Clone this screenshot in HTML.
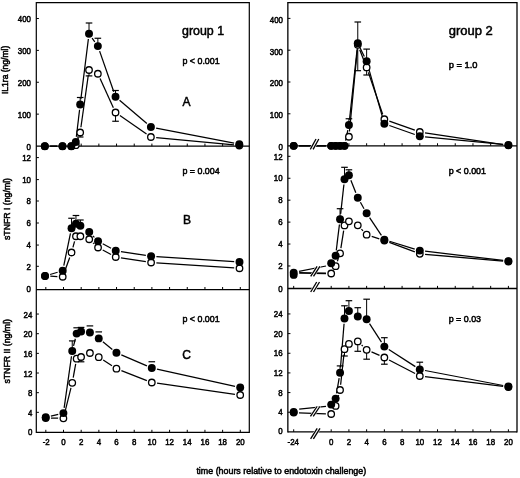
<!DOCTYPE html>
<html><head><meta charset="utf-8"><title>figure</title>
<style>
html,body{margin:0;padding:0;background:#fff;}
body{width:520px;height:478px;overflow:hidden;}
svg{display:block;}
text{font-family:"Liberation Sans",sans-serif;fill:#000;stroke:#000;stroke-width:0.5px;}
svg{filter:grayscale(1);}
</style></head><body>
<svg width="520" height="478" viewBox="0 0 520 478">
<rect x="0" y="0" width="520" height="478" fill="#fff"/>
<line x1="36.30" y1="2.00" x2="36.30" y2="433.00" stroke="#000" stroke-width="1.2" />
<line x1="249.30" y1="2.00" x2="249.30" y2="433.00" stroke="#000" stroke-width="1.2" />
<line x1="36.30" y1="2.60" x2="249.30" y2="2.60" stroke="#000" stroke-width="1.2" />
<line x1="36.30" y1="146.20" x2="249.30" y2="146.20" stroke="#000" stroke-width="1.2" />
<line x1="36.30" y1="289.60" x2="249.30" y2="289.60" stroke="#000" stroke-width="1.2" />
<line x1="36.30" y1="432.40" x2="249.30" y2="432.40" stroke="#000" stroke-width="1.2" />
<line x1="45.82" y1="146.20" x2="45.82" y2="143.60" stroke="#000" stroke-width="1.0" />
<line x1="63.50" y1="146.20" x2="63.50" y2="143.60" stroke="#000" stroke-width="1.0" />
<line x1="81.18" y1="146.20" x2="81.18" y2="143.60" stroke="#000" stroke-width="1.0" />
<line x1="98.86" y1="146.20" x2="98.86" y2="143.60" stroke="#000" stroke-width="1.0" />
<line x1="116.54" y1="146.20" x2="116.54" y2="143.60" stroke="#000" stroke-width="1.0" />
<line x1="134.22" y1="146.20" x2="134.22" y2="143.60" stroke="#000" stroke-width="1.0" />
<line x1="151.90" y1="146.20" x2="151.90" y2="143.60" stroke="#000" stroke-width="1.0" />
<line x1="169.58" y1="146.20" x2="169.58" y2="143.60" stroke="#000" stroke-width="1.0" />
<line x1="187.26" y1="146.20" x2="187.26" y2="143.60" stroke="#000" stroke-width="1.0" />
<line x1="204.94" y1="146.20" x2="204.94" y2="143.60" stroke="#000" stroke-width="1.0" />
<line x1="222.62" y1="146.20" x2="222.62" y2="143.60" stroke="#000" stroke-width="1.0" />
<line x1="240.30" y1="146.20" x2="240.30" y2="143.60" stroke="#000" stroke-width="1.0" />
<line x1="45.82" y1="289.60" x2="45.82" y2="287.00" stroke="#000" stroke-width="1.0" />
<line x1="63.50" y1="289.60" x2="63.50" y2="287.00" stroke="#000" stroke-width="1.0" />
<line x1="81.18" y1="289.60" x2="81.18" y2="287.00" stroke="#000" stroke-width="1.0" />
<line x1="98.86" y1="289.60" x2="98.86" y2="287.00" stroke="#000" stroke-width="1.0" />
<line x1="116.54" y1="289.60" x2="116.54" y2="287.00" stroke="#000" stroke-width="1.0" />
<line x1="134.22" y1="289.60" x2="134.22" y2="287.00" stroke="#000" stroke-width="1.0" />
<line x1="151.90" y1="289.60" x2="151.90" y2="287.00" stroke="#000" stroke-width="1.0" />
<line x1="169.58" y1="289.60" x2="169.58" y2="287.00" stroke="#000" stroke-width="1.0" />
<line x1="187.26" y1="289.60" x2="187.26" y2="287.00" stroke="#000" stroke-width="1.0" />
<line x1="204.94" y1="289.60" x2="204.94" y2="287.00" stroke="#000" stroke-width="1.0" />
<line x1="222.62" y1="289.60" x2="222.62" y2="287.00" stroke="#000" stroke-width="1.0" />
<line x1="240.30" y1="289.60" x2="240.30" y2="287.00" stroke="#000" stroke-width="1.0" />
<line x1="45.82" y1="432.40" x2="45.82" y2="429.80" stroke="#000" stroke-width="1.0" />
<line x1="63.50" y1="432.40" x2="63.50" y2="429.80" stroke="#000" stroke-width="1.0" />
<line x1="81.18" y1="432.40" x2="81.18" y2="429.80" stroke="#000" stroke-width="1.0" />
<line x1="98.86" y1="432.40" x2="98.86" y2="429.80" stroke="#000" stroke-width="1.0" />
<line x1="116.54" y1="432.40" x2="116.54" y2="429.80" stroke="#000" stroke-width="1.0" />
<line x1="134.22" y1="432.40" x2="134.22" y2="429.80" stroke="#000" stroke-width="1.0" />
<line x1="151.90" y1="432.40" x2="151.90" y2="429.80" stroke="#000" stroke-width="1.0" />
<line x1="169.58" y1="432.40" x2="169.58" y2="429.80" stroke="#000" stroke-width="1.0" />
<line x1="187.26" y1="432.40" x2="187.26" y2="429.80" stroke="#000" stroke-width="1.0" />
<line x1="204.94" y1="432.40" x2="204.94" y2="429.80" stroke="#000" stroke-width="1.0" />
<line x1="222.62" y1="432.40" x2="222.62" y2="429.80" stroke="#000" stroke-width="1.0" />
<line x1="240.30" y1="432.40" x2="240.30" y2="429.80" stroke="#000" stroke-width="1.0" />
<line x1="36.30" y1="114.13" x2="38.90" y2="114.13" stroke="#000" stroke-width="1.0" />
<line x1="36.30" y1="82.26" x2="38.90" y2="82.26" stroke="#000" stroke-width="1.0" />
<line x1="36.30" y1="50.39" x2="38.90" y2="50.39" stroke="#000" stroke-width="1.0" />
<line x1="36.30" y1="18.52" x2="38.90" y2="18.52" stroke="#000" stroke-width="1.0" />
<line x1="36.30" y1="266.30" x2="38.90" y2="266.30" stroke="#000" stroke-width="1.0" />
<line x1="36.30" y1="245.05" x2="38.90" y2="245.05" stroke="#000" stroke-width="1.0" />
<line x1="36.30" y1="223.00" x2="38.90" y2="223.00" stroke="#000" stroke-width="1.0" />
<line x1="36.30" y1="201.00" x2="38.90" y2="201.00" stroke="#000" stroke-width="1.0" />
<line x1="36.30" y1="179.60" x2="38.90" y2="179.60" stroke="#000" stroke-width="1.0" />
<line x1="36.30" y1="157.60" x2="38.90" y2="157.60" stroke="#000" stroke-width="1.0" />
<line x1="36.30" y1="412.34" x2="38.90" y2="412.34" stroke="#000" stroke-width="1.0" />
<line x1="36.30" y1="392.68" x2="38.90" y2="392.68" stroke="#000" stroke-width="1.0" />
<line x1="36.30" y1="373.02" x2="38.90" y2="373.02" stroke="#000" stroke-width="1.0" />
<line x1="36.30" y1="353.36" x2="38.90" y2="353.36" stroke="#000" stroke-width="1.0" />
<line x1="36.30" y1="333.70" x2="38.90" y2="333.70" stroke="#000" stroke-width="1.0" />
<line x1="36.30" y1="314.04" x2="38.90" y2="314.04" stroke="#000" stroke-width="1.0" />
<line x1="287.85" y1="1.95" x2="287.85" y2="432.55" stroke="#000" stroke-width="1.3" />
<line x1="517.00" y1="1.95" x2="517.00" y2="432.55" stroke="#000" stroke-width="1.3" />
<line x1="287.85" y1="2.60" x2="517.00" y2="2.60" stroke="#000" stroke-width="1.3" />
<line x1="287.85" y1="145.85" x2="517.00" y2="145.85" stroke="#000" stroke-width="1.3" />
<line x1="287.85" y1="288.50" x2="517.00" y2="288.50" stroke="#000" stroke-width="1.3" />
<line x1="287.85" y1="431.90" x2="517.00" y2="431.90" stroke="#000" stroke-width="1.3" />
<line x1="293.70" y1="145.85" x2="293.70" y2="143.25" stroke="#000" stroke-width="1.0" />
<line x1="331.20" y1="145.85" x2="331.20" y2="143.25" stroke="#000" stroke-width="1.0" />
<line x1="348.92" y1="145.85" x2="348.92" y2="143.25" stroke="#000" stroke-width="1.0" />
<line x1="366.64" y1="145.85" x2="366.64" y2="143.25" stroke="#000" stroke-width="1.0" />
<line x1="384.36" y1="145.85" x2="384.36" y2="143.25" stroke="#000" stroke-width="1.0" />
<line x1="402.08" y1="145.85" x2="402.08" y2="143.25" stroke="#000" stroke-width="1.0" />
<line x1="419.80" y1="145.85" x2="419.80" y2="143.25" stroke="#000" stroke-width="1.0" />
<line x1="437.52" y1="145.85" x2="437.52" y2="143.25" stroke="#000" stroke-width="1.0" />
<line x1="455.24" y1="145.85" x2="455.24" y2="143.25" stroke="#000" stroke-width="1.0" />
<line x1="472.96" y1="145.85" x2="472.96" y2="143.25" stroke="#000" stroke-width="1.0" />
<line x1="490.68" y1="145.85" x2="490.68" y2="143.25" stroke="#000" stroke-width="1.0" />
<line x1="508.40" y1="145.85" x2="508.40" y2="143.25" stroke="#000" stroke-width="1.0" />
<line x1="293.70" y1="288.50" x2="293.70" y2="285.90" stroke="#000" stroke-width="1.0" />
<line x1="331.20" y1="288.50" x2="331.20" y2="285.90" stroke="#000" stroke-width="1.0" />
<line x1="348.92" y1="288.50" x2="348.92" y2="285.90" stroke="#000" stroke-width="1.0" />
<line x1="366.64" y1="288.50" x2="366.64" y2="285.90" stroke="#000" stroke-width="1.0" />
<line x1="384.36" y1="288.50" x2="384.36" y2="285.90" stroke="#000" stroke-width="1.0" />
<line x1="402.08" y1="288.50" x2="402.08" y2="285.90" stroke="#000" stroke-width="1.0" />
<line x1="419.80" y1="288.50" x2="419.80" y2="285.90" stroke="#000" stroke-width="1.0" />
<line x1="437.52" y1="288.50" x2="437.52" y2="285.90" stroke="#000" stroke-width="1.0" />
<line x1="455.24" y1="288.50" x2="455.24" y2="285.90" stroke="#000" stroke-width="1.0" />
<line x1="472.96" y1="288.50" x2="472.96" y2="285.90" stroke="#000" stroke-width="1.0" />
<line x1="490.68" y1="288.50" x2="490.68" y2="285.90" stroke="#000" stroke-width="1.0" />
<line x1="508.40" y1="288.50" x2="508.40" y2="285.90" stroke="#000" stroke-width="1.0" />
<line x1="293.70" y1="431.90" x2="293.70" y2="429.30" stroke="#000" stroke-width="1.0" />
<line x1="331.20" y1="431.90" x2="331.20" y2="429.30" stroke="#000" stroke-width="1.0" />
<line x1="348.92" y1="431.90" x2="348.92" y2="429.30" stroke="#000" stroke-width="1.0" />
<line x1="366.64" y1="431.90" x2="366.64" y2="429.30" stroke="#000" stroke-width="1.0" />
<line x1="384.36" y1="431.90" x2="384.36" y2="429.30" stroke="#000" stroke-width="1.0" />
<line x1="402.08" y1="431.90" x2="402.08" y2="429.30" stroke="#000" stroke-width="1.0" />
<line x1="419.80" y1="431.90" x2="419.80" y2="429.30" stroke="#000" stroke-width="1.0" />
<line x1="437.52" y1="431.90" x2="437.52" y2="429.30" stroke="#000" stroke-width="1.0" />
<line x1="455.24" y1="431.90" x2="455.24" y2="429.30" stroke="#000" stroke-width="1.0" />
<line x1="472.96" y1="431.90" x2="472.96" y2="429.30" stroke="#000" stroke-width="1.0" />
<line x1="490.68" y1="431.90" x2="490.68" y2="429.30" stroke="#000" stroke-width="1.0" />
<line x1="508.40" y1="431.90" x2="508.40" y2="429.30" stroke="#000" stroke-width="1.0" />
<line x1="287.85" y1="113.80" x2="290.45" y2="113.80" stroke="#000" stroke-width="1.0" />
<line x1="287.85" y1="82.00" x2="290.45" y2="82.00" stroke="#000" stroke-width="1.0" />
<line x1="287.85" y1="50.20" x2="290.45" y2="50.20" stroke="#000" stroke-width="1.0" />
<line x1="287.85" y1="18.40" x2="290.45" y2="18.40" stroke="#000" stroke-width="1.0" />
<line x1="287.85" y1="265.97" x2="290.45" y2="265.97" stroke="#000" stroke-width="1.0" />
<line x1="287.85" y1="244.04" x2="290.45" y2="244.04" stroke="#000" stroke-width="1.0" />
<line x1="287.85" y1="222.11" x2="290.45" y2="222.11" stroke="#000" stroke-width="1.0" />
<line x1="287.85" y1="200.18" x2="290.45" y2="200.18" stroke="#000" stroke-width="1.0" />
<line x1="287.85" y1="178.25" x2="290.45" y2="178.25" stroke="#000" stroke-width="1.0" />
<line x1="287.85" y1="156.32" x2="290.45" y2="156.32" stroke="#000" stroke-width="1.0" />
<line x1="287.85" y1="412.24" x2="290.45" y2="412.24" stroke="#000" stroke-width="1.0" />
<line x1="287.85" y1="392.58" x2="290.45" y2="392.58" stroke="#000" stroke-width="1.0" />
<line x1="287.85" y1="372.92" x2="290.45" y2="372.92" stroke="#000" stroke-width="1.0" />
<line x1="287.85" y1="353.26" x2="290.45" y2="353.26" stroke="#000" stroke-width="1.0" />
<line x1="287.85" y1="333.60" x2="290.45" y2="333.60" stroke="#000" stroke-width="1.0" />
<line x1="287.85" y1="313.94" x2="290.45" y2="313.94" stroke="#000" stroke-width="1.0" />
<text transform="translate(31.00,149.60) scale(0.9,1)" font-size="8.8" text-anchor="end" >0</text>
<text transform="translate(31.00,117.53) scale(0.9,1)" font-size="8.8" text-anchor="end" >100</text>
<text transform="translate(31.00,85.66) scale(0.9,1)" font-size="8.8" text-anchor="end" >200</text>
<text transform="translate(31.00,53.79) scale(0.9,1)" font-size="8.8" text-anchor="end" >300</text>
<text transform="translate(31.00,21.92) scale(0.9,1)" font-size="8.8" text-anchor="end" >400</text>
<text transform="translate(31.00,292.40) scale(0.9,1)" font-size="8.8" text-anchor="end" >0</text>
<text transform="translate(31.00,269.60) scale(0.9,1)" font-size="8.8" text-anchor="end" >2</text>
<text transform="translate(31.00,248.35) scale(0.9,1)" font-size="8.8" text-anchor="end" >4</text>
<text transform="translate(31.00,226.30) scale(0.9,1)" font-size="8.8" text-anchor="end" >6</text>
<text transform="translate(31.00,204.30) scale(0.9,1)" font-size="8.8" text-anchor="end" >8</text>
<text transform="translate(31.00,182.90) scale(0.9,1)" font-size="8.8" text-anchor="end" >10</text>
<text transform="translate(31.00,160.90) scale(0.9,1)" font-size="8.8" text-anchor="end" >12</text>
<text transform="translate(32.30,435.05) scale(0.9,1)" font-size="8.8" text-anchor="end" >0</text>
<text transform="translate(32.30,415.84) scale(0.9,1)" font-size="8.8" text-anchor="end" >4</text>
<text transform="translate(32.30,396.18) scale(0.9,1)" font-size="8.8" text-anchor="end" >8</text>
<text transform="translate(32.30,376.52) scale(0.9,1)" font-size="8.8" text-anchor="end" >12</text>
<text transform="translate(32.30,356.86) scale(0.9,1)" font-size="8.8" text-anchor="end" >16</text>
<text transform="translate(32.30,337.20) scale(0.9,1)" font-size="8.8" text-anchor="end" >20</text>
<text transform="translate(32.30,317.54) scale(0.9,1)" font-size="8.8" text-anchor="end" >24</text>
<text transform="translate(283.00,149.60) scale(0.9,1)" font-size="8.8" text-anchor="end" >0</text>
<text transform="translate(283.00,118.20) scale(0.9,1)" font-size="8.8" text-anchor="end" >100</text>
<text transform="translate(283.00,86.40) scale(0.9,1)" font-size="8.8" text-anchor="end" >200</text>
<text transform="translate(283.00,54.60) scale(0.9,1)" font-size="8.8" text-anchor="end" >300</text>
<text transform="translate(283.00,22.80) scale(0.9,1)" font-size="8.8" text-anchor="end" >400</text>
<text transform="translate(282.60,291.90) scale(0.9,1)" font-size="8.8" text-anchor="end" >0</text>
<text transform="translate(282.60,269.17) scale(0.9,1)" font-size="8.8" text-anchor="end" >2</text>
<text transform="translate(282.60,247.24) scale(0.9,1)" font-size="8.8" text-anchor="end" >4</text>
<text transform="translate(282.60,225.31) scale(0.9,1)" font-size="8.8" text-anchor="end" >6</text>
<text transform="translate(282.60,203.38) scale(0.9,1)" font-size="8.8" text-anchor="end" >8</text>
<text transform="translate(282.60,181.45) scale(0.9,1)" font-size="8.8" text-anchor="end" >10</text>
<text transform="translate(282.60,159.52) scale(0.9,1)" font-size="8.8" text-anchor="end" >12</text>
<text transform="translate(282.60,433.90) scale(0.9,1)" font-size="8.8" text-anchor="end" >0</text>
<text transform="translate(282.60,415.44) scale(0.9,1)" font-size="8.8" text-anchor="end" >4</text>
<text transform="translate(282.60,395.78) scale(0.9,1)" font-size="8.8" text-anchor="end" >8</text>
<text transform="translate(282.60,376.12) scale(0.9,1)" font-size="8.8" text-anchor="end" >12</text>
<text transform="translate(282.60,356.46) scale(0.9,1)" font-size="8.8" text-anchor="end" >16</text>
<text transform="translate(282.60,336.80) scale(0.9,1)" font-size="8.8" text-anchor="end" >20</text>
<text transform="translate(282.60,317.14) scale(0.9,1)" font-size="8.8" text-anchor="end" >24</text>
<text transform="translate(46.22,444.90) scale(0.9,1)" font-size="8.8" text-anchor="middle" >-2</text>
<text transform="translate(63.50,444.90) scale(0.9,1)" font-size="8.8" text-anchor="middle" >0</text>
<text transform="translate(81.18,444.90) scale(0.9,1)" font-size="8.8" text-anchor="middle" >2</text>
<text transform="translate(98.86,444.90) scale(0.9,1)" font-size="8.8" text-anchor="middle" >4</text>
<text transform="translate(116.54,444.90) scale(0.9,1)" font-size="8.8" text-anchor="middle" >6</text>
<text transform="translate(134.22,444.90) scale(0.9,1)" font-size="8.8" text-anchor="middle" >8</text>
<text transform="translate(151.90,444.90) scale(0.9,1)" font-size="8.8" text-anchor="middle" >10</text>
<text transform="translate(169.58,444.90) scale(0.9,1)" font-size="8.8" text-anchor="middle" >12</text>
<text transform="translate(187.26,444.90) scale(0.9,1)" font-size="8.8" text-anchor="middle" >14</text>
<text transform="translate(204.94,444.90) scale(0.9,1)" font-size="8.8" text-anchor="middle" >16</text>
<text transform="translate(222.62,444.90) scale(0.9,1)" font-size="8.8" text-anchor="middle" >18</text>
<text transform="translate(240.30,444.90) scale(0.9,1)" font-size="8.8" text-anchor="middle" >20</text>
<text transform="translate(293.30,444.90) scale(0.9,1)" font-size="8.8" text-anchor="middle" >-24</text>
<text transform="translate(331.20,444.90) scale(0.9,1)" font-size="8.8" text-anchor="middle" >0</text>
<text transform="translate(348.92,444.90) scale(0.9,1)" font-size="8.8" text-anchor="middle" >2</text>
<text transform="translate(366.64,444.90) scale(0.9,1)" font-size="8.8" text-anchor="middle" >4</text>
<text transform="translate(384.36,444.90) scale(0.9,1)" font-size="8.8" text-anchor="middle" >6</text>
<text transform="translate(402.08,444.90) scale(0.9,1)" font-size="8.8" text-anchor="middle" >8</text>
<text transform="translate(419.80,444.90) scale(0.9,1)" font-size="8.8" text-anchor="middle" >10</text>
<text transform="translate(437.52,444.90) scale(0.9,1)" font-size="8.8" text-anchor="middle" >12</text>
<text transform="translate(455.24,444.90) scale(0.9,1)" font-size="8.8" text-anchor="middle" >14</text>
<text transform="translate(472.96,444.90) scale(0.9,1)" font-size="8.8" text-anchor="middle" >16</text>
<text transform="translate(490.68,444.90) scale(0.9,1)" font-size="8.8" text-anchor="middle" >18</text>
<text transform="translate(508.40,444.90) scale(0.9,1)" font-size="8.8" text-anchor="middle" >20</text>
<text x="196.40" y="474.20" font-size="8.8" text-anchor="start" textLength="169.8" lengthAdjust="spacingAndGlyphs">time (hours relative to endotoxin challenge)</text>
<text transform="translate(8.0,69.9) rotate(-90)" font-size="8.6" text-anchor="middle" textLength="48.3" lengthAdjust="spacingAndGlyphs">IL1ra (ng/ml)</text>
<text transform="translate(9.9,209.0) rotate(-90)" font-size="8.8" text-anchor="middle" textLength="62.0" lengthAdjust="spacingAndGlyphs">sTNFR I (ng/ml)</text>
<text transform="translate(10.1,351.3) rotate(-90)" font-size="8.8" text-anchor="middle" textLength="64.6" lengthAdjust="spacingAndGlyphs">sTNFR II (ng/ml)</text>
<text x="182.00" y="35.30" font-size="12.4" text-anchor="start" stroke-width="0.5">group 1</text>
<text x="448.70" y="35.30" font-size="12.4" text-anchor="start" stroke-width="0.5" textLength="44.1" lengthAdjust="spacingAndGlyphs">group 2</text>
<text x="182.40" y="63.60" font-size="8.9" text-anchor="start" >p &lt; 0.001</text>
<text x="448.70" y="68.00" font-size="8.9" text-anchor="start" textLength="28.8" lengthAdjust="spacingAndGlyphs">p = 1.0</text>
<text x="182.40" y="174.00" font-size="8.9" text-anchor="start" >p = 0.004</text>
<text x="448.70" y="174.00" font-size="8.9" text-anchor="start" >p &lt; 0.001</text>
<text x="182.40" y="321.90" font-size="8.9" text-anchor="start" >p &lt; 0.001</text>
<text x="448.70" y="322.20" font-size="8.9" text-anchor="start" >p = 0.03</text>
<text x="182.40" y="106.00" font-size="12" text-anchor="start" >A</text>
<text x="183.00" y="223.60" font-size="12" text-anchor="start" >B</text>
<text x="182.20" y="358.80" font-size="12" text-anchor="start" >C</text>
<line x1="50.12" y1="146.20" x2="57.20" y2="146.20" stroke="#000" stroke-width="1.25" />
<line x1="77.50" y1="140.19" x2="78.44" y2="137.51" stroke="#000" stroke-width="1.25" />
<line x1="80.92" y1="127.25" x2="88.28" y2="75.25" stroke="#000" stroke-width="1.25" />
<line x1="100.06" y1="78.57" x2="113.34" y2="107.68" stroke="#000" stroke-width="1.25" />
<line x1="119.90" y1="115.52" x2="146.54" y2="133.98" stroke="#000" stroke-width="1.25" />
<line x1="156.18" y1="137.51" x2="234.02" y2="144.99" stroke="#000" stroke-width="1.25" />
<line x1="50.12" y1="146.20" x2="57.20" y2="146.20" stroke="#000" stroke-width="1.25" />
<line x1="76.38" y1="136.74" x2="79.56" y2="109.76" stroke="#000" stroke-width="1.25" />
<line x1="80.84" y1="99.24" x2="88.36" y2="38.96" stroke="#000" stroke-width="1.25" />
<line x1="92.10" y1="38.02" x2="94.78" y2="41.78" stroke="#000" stroke-width="1.25" />
<line x1="99.61" y1="51.10" x2="113.79" y2="91.75" stroke="#000" stroke-width="1.25" />
<line x1="119.57" y1="100.20" x2="146.87" y2="123.55" stroke="#000" stroke-width="1.25" />
<line x1="156.10" y1="128.02" x2="234.10" y2="143.23" stroke="#000" stroke-width="1.25" />
<line x1="80.18" y1="104.50" x2="80.18" y2="97.50" stroke="#000" stroke-width="1.0" />
<line x1="76.88" y1="97.50" x2="83.48" y2="97.50" stroke="#000" stroke-width="1.2" />
<line x1="89.02" y1="33.70" x2="89.02" y2="23.00" stroke="#000" stroke-width="1.0" />
<line x1="85.72" y1="23.00" x2="92.32" y2="23.00" stroke="#000" stroke-width="1.2" />
<line x1="97.86" y1="46.10" x2="97.86" y2="38.25" stroke="#000" stroke-width="1.0" />
<line x1="94.56" y1="38.25" x2="101.16" y2="38.25" stroke="#000" stroke-width="1.2" />
<line x1="115.54" y1="96.75" x2="115.54" y2="90.50" stroke="#000" stroke-width="1.0" />
<line x1="112.24" y1="90.50" x2="118.84" y2="90.50" stroke="#000" stroke-width="1.2" />
<line x1="80.18" y1="132.50" x2="80.18" y2="137.00" stroke="#000" stroke-width="1.0" />
<line x1="76.88" y1="137.00" x2="83.48" y2="137.00" stroke="#000" stroke-width="1.2" />
<line x1="89.02" y1="70.00" x2="89.02" y2="75.90" stroke="#000" stroke-width="1.0" />
<line x1="85.72" y1="75.90" x2="92.32" y2="75.90" stroke="#000" stroke-width="1.2" />
<line x1="115.54" y1="112.50" x2="115.54" y2="121.25" stroke="#000" stroke-width="1.0" />
<line x1="112.24" y1="121.25" x2="118.84" y2="121.25" stroke="#000" stroke-width="1.2" />
<circle cx="44.82" cy="146.20" r="3.25" fill="#fff" stroke="#000" stroke-width="1.3"/>
<circle cx="62.50" cy="146.20" r="3.25" fill="#fff" stroke="#000" stroke-width="1.3"/>
<circle cx="71.34" cy="146.20" r="3.25" fill="#fff" stroke="#000" stroke-width="1.3"/>
<circle cx="75.76" cy="145.20" r="3.25" fill="#fff" stroke="#000" stroke-width="1.3"/>
<circle cx="80.18" cy="132.50" r="3.25" fill="#fff" stroke="#000" stroke-width="1.3"/>
<circle cx="89.02" cy="70.00" r="3.25" fill="#fff" stroke="#000" stroke-width="1.3"/>
<circle cx="97.86" cy="73.75" r="3.25" fill="#fff" stroke="#000" stroke-width="1.3"/>
<circle cx="115.54" cy="112.50" r="3.25" fill="#fff" stroke="#000" stroke-width="1.3"/>
<circle cx="150.90" cy="137.00" r="3.25" fill="#fff" stroke="#000" stroke-width="1.3"/>
<circle cx="239.30" cy="145.50" r="3.25" fill="#fff" stroke="#000" stroke-width="1.3"/>
<circle cx="44.82" cy="146.20" r="3.97" fill="#000"/>
<circle cx="62.50" cy="146.20" r="3.97" fill="#000"/>
<circle cx="71.34" cy="146.20" r="3.97" fill="#000"/>
<circle cx="75.76" cy="142.00" r="3.97" fill="#000"/>
<circle cx="80.18" cy="104.50" r="3.97" fill="#000"/>
<circle cx="89.02" cy="33.70" r="3.97" fill="#000"/>
<circle cx="97.86" cy="46.10" r="3.97" fill="#000"/>
<circle cx="115.54" cy="96.75" r="3.97" fill="#000"/>
<circle cx="150.90" cy="127.00" r="3.97" fill="#000"/>
<circle cx="239.30" cy="144.25" r="3.97" fill="#000"/>
<line x1="50.32" y1="276.22" x2="57.40" y2="276.53" stroke="#000" stroke-width="1.25" />
<line x1="64.52" y1="271.77" x2="69.72" y2="257.48" stroke="#000" stroke-width="1.25" />
<line x1="72.93" y1="247.39" x2="74.57" y2="241.36" stroke="#000" stroke-width="1.25" />
<line x1="93.09" y1="242.87" x2="94.19" y2="243.88" stroke="#000" stroke-width="1.25" />
<line x1="102.73" y1="250.01" x2="111.07" y2="254.49" stroke="#000" stroke-width="1.25" />
<line x1="120.98" y1="257.81" x2="145.86" y2="261.69" stroke="#000" stroke-width="1.25" />
<line x1="156.39" y1="262.84" x2="234.21" y2="267.91" stroke="#000" stroke-width="1.25" />
<line x1="50.10" y1="274.49" x2="57.62" y2="272.26" stroke="#000" stroke-width="1.25" />
<line x1="63.78" y1="265.56" x2="70.46" y2="233.44" stroke="#000" stroke-width="1.25" />
<line x1="92.88" y1="235.83" x2="94.40" y2="237.42" stroke="#000" stroke-width="1.25" />
<line x1="102.73" y1="243.76" x2="111.07" y2="248.24" stroke="#000" stroke-width="1.25" />
<line x1="120.98" y1="251.56" x2="145.86" y2="255.44" stroke="#000" stroke-width="1.25" />
<line x1="156.39" y1="256.59" x2="234.21" y2="261.66" stroke="#000" stroke-width="1.25" />
<line x1="71.54" y1="228.25" x2="71.54" y2="218.25" stroke="#000" stroke-width="1.0" />
<line x1="68.24" y1="218.25" x2="74.84" y2="218.25" stroke="#000" stroke-width="1.2" />
<line x1="75.96" y1="223.75" x2="75.96" y2="215.50" stroke="#000" stroke-width="1.0" />
<line x1="72.66" y1="215.50" x2="79.26" y2="215.50" stroke="#000" stroke-width="1.2" />
<line x1="80.38" y1="225.75" x2="80.38" y2="220.00" stroke="#000" stroke-width="1.0" />
<line x1="77.08" y1="220.00" x2="83.68" y2="220.00" stroke="#000" stroke-width="1.2" />
<circle cx="45.02" cy="276.00" r="3.25" fill="#fff" stroke="#000" stroke-width="1.3"/>
<circle cx="62.70" cy="276.75" r="3.25" fill="#fff" stroke="#000" stroke-width="1.3"/>
<circle cx="71.54" cy="252.50" r="3.25" fill="#fff" stroke="#000" stroke-width="1.3"/>
<circle cx="75.96" cy="236.25" r="3.25" fill="#fff" stroke="#000" stroke-width="1.3"/>
<circle cx="80.38" cy="236.25" r="3.25" fill="#fff" stroke="#000" stroke-width="1.3"/>
<circle cx="89.22" cy="239.25" r="3.25" fill="#fff" stroke="#000" stroke-width="1.3"/>
<circle cx="98.06" cy="247.50" r="3.25" fill="#fff" stroke="#000" stroke-width="1.3"/>
<circle cx="115.74" cy="257.00" r="3.25" fill="#fff" stroke="#000" stroke-width="1.3"/>
<circle cx="151.10" cy="262.50" r="3.25" fill="#fff" stroke="#000" stroke-width="1.3"/>
<circle cx="239.50" cy="268.25" r="3.25" fill="#fff" stroke="#000" stroke-width="1.3"/>
<circle cx="45.02" cy="276.00" r="3.97" fill="#000"/>
<circle cx="62.70" cy="270.75" r="3.97" fill="#000"/>
<circle cx="71.54" cy="228.25" r="3.97" fill="#000"/>
<circle cx="75.96" cy="223.75" r="3.97" fill="#000"/>
<circle cx="80.38" cy="225.75" r="3.97" fill="#000"/>
<circle cx="89.22" cy="232.00" r="3.97" fill="#000"/>
<circle cx="98.06" cy="241.25" r="3.97" fill="#000"/>
<circle cx="115.74" cy="250.75" r="3.97" fill="#000"/>
<circle cx="151.10" cy="256.25" r="3.97" fill="#000"/>
<circle cx="239.50" cy="262.00" r="3.97" fill="#000"/>
<line x1="51.02" y1="418.09" x2="58.10" y2="418.21" stroke="#000" stroke-width="1.25" />
<line x1="64.68" y1="413.16" x2="70.96" y2="387.94" stroke="#000" stroke-width="1.25" />
<line x1="73.20" y1="377.59" x2="75.70" y2="363.91" stroke="#000" stroke-width="1.25" />
<line x1="103.20" y1="360.09" x2="112.00" y2="365.81" stroke="#000" stroke-width="1.25" />
<line x1="121.38" y1="370.63" x2="146.86" y2="380.57" stroke="#000" stroke-width="1.25" />
<line x1="157.05" y1="383.24" x2="234.95" y2="394.26" stroke="#000" stroke-width="1.25" />
<line x1="50.88" y1="416.08" x2="58.24" y2="414.32" stroke="#000" stroke-width="1.25" />
<line x1="64.15" y1="407.85" x2="71.49" y2="356.25" stroke="#000" stroke-width="1.25" />
<line x1="73.54" y1="345.86" x2="75.36" y2="338.74" stroke="#000" stroke-width="1.25" />
<line x1="102.87" y1="341.75" x2="112.33" y2="349.45" stroke="#000" stroke-width="1.25" />
<line x1="121.31" y1="354.89" x2="146.93" y2="365.91" stroke="#000" stroke-width="1.25" />
<line x1="156.98" y1="369.14" x2="235.02" y2="386.36" stroke="#000" stroke-width="1.25" />
<line x1="72.24" y1="351.00" x2="72.24" y2="340.90" stroke="#000" stroke-width="1.0" />
<line x1="68.94" y1="340.90" x2="75.54" y2="340.90" stroke="#000" stroke-width="1.2" />
<line x1="73.36" y1="327.80" x2="79.96" y2="327.80" stroke="#000" stroke-width="1.2" />
<line x1="77.78" y1="327.40" x2="84.38" y2="327.40" stroke="#000" stroke-width="1.2" />
<line x1="86.62" y1="325.90" x2="93.22" y2="325.90" stroke="#000" stroke-width="1.2" />
<line x1="95.46" y1="331.90" x2="102.06" y2="331.90" stroke="#000" stroke-width="1.2" />
<line x1="148.50" y1="361.75" x2="155.10" y2="361.75" stroke="#000" stroke-width="1.2" />
<line x1="81.08" y1="357.00" x2="81.08" y2="361.80" stroke="#000" stroke-width="1.0" />
<line x1="77.78" y1="361.80" x2="84.38" y2="361.80" stroke="#000" stroke-width="1.2" />
<circle cx="45.72" cy="418.00" r="3.25" fill="#fff" stroke="#000" stroke-width="1.3"/>
<circle cx="63.40" cy="418.30" r="3.25" fill="#fff" stroke="#000" stroke-width="1.3"/>
<circle cx="72.24" cy="382.80" r="3.25" fill="#fff" stroke="#000" stroke-width="1.3"/>
<circle cx="76.66" cy="358.70" r="3.25" fill="#fff" stroke="#000" stroke-width="1.3"/>
<circle cx="81.08" cy="357.00" r="3.25" fill="#fff" stroke="#000" stroke-width="1.3"/>
<circle cx="89.92" cy="353.00" r="3.25" fill="#fff" stroke="#000" stroke-width="1.3"/>
<circle cx="98.76" cy="357.20" r="3.25" fill="#fff" stroke="#000" stroke-width="1.3"/>
<circle cx="116.44" cy="368.70" r="3.25" fill="#fff" stroke="#000" stroke-width="1.3"/>
<circle cx="151.80" cy="382.50" r="3.25" fill="#fff" stroke="#000" stroke-width="1.3"/>
<circle cx="240.20" cy="395.00" r="3.25" fill="#fff" stroke="#000" stroke-width="1.3"/>
<circle cx="45.72" cy="417.30" r="3.97" fill="#000"/>
<circle cx="63.40" cy="413.10" r="3.97" fill="#000"/>
<circle cx="72.24" cy="351.00" r="3.97" fill="#000"/>
<circle cx="76.66" cy="333.60" r="3.97" fill="#000"/>
<circle cx="81.08" cy="331.50" r="3.97" fill="#000"/>
<circle cx="89.92" cy="332.50" r="3.97" fill="#000"/>
<circle cx="98.76" cy="338.40" r="3.97" fill="#000"/>
<circle cx="116.44" cy="352.80" r="3.97" fill="#000"/>
<circle cx="151.80" cy="368.00" r="3.97" fill="#000"/>
<circle cx="240.20" cy="387.50" r="3.97" fill="#000"/>
<line x1="299.00" y1="145.85" x2="325.90" y2="145.85" stroke="#000" stroke-width="1.25" />
<line x1="349.43" y1="131.47" x2="357.27" y2="50.08" stroke="#000" stroke-width="1.25" />
<line x1="359.71" y1="49.73" x2="364.71" y2="62.47" stroke="#000" stroke-width="1.25" />
<line x1="368.35" y1="72.42" x2="382.65" y2="114.23" stroke="#000" stroke-width="1.25" />
<line x1="389.35" y1="121.04" x2="414.81" y2="130.21" stroke="#000" stroke-width="1.25" />
<line x1="425.04" y1="132.79" x2="503.16" y2="144.51" stroke="#000" stroke-width="1.25" />
<line x1="299.00" y1="145.85" x2="325.90" y2="145.85" stroke="#000" stroke-width="1.25" />
<line x1="345.59" y1="140.67" x2="347.82" y2="130.18" stroke="#000" stroke-width="1.25" />
<line x1="349.49" y1="119.73" x2="357.21" y2="48.57" stroke="#000" stroke-width="1.25" />
<line x1="360.13" y1="48.05" x2="364.29" y2="56.45" stroke="#000" stroke-width="1.25" />
<line x1="368.08" y1="66.30" x2="382.92" y2="118.65" stroke="#000" stroke-width="1.25" />
<line x1="389.36" y1="125.51" x2="414.80" y2="134.49" stroke="#000" stroke-width="1.25" />
<line x1="425.07" y1="136.77" x2="503.13" y2="144.48" stroke="#000" stroke-width="1.25" />
<line x1="348.92" y1="125.00" x2="348.92" y2="118.75" stroke="#000" stroke-width="1.0" />
<line x1="345.62" y1="118.75" x2="352.22" y2="118.75" stroke="#000" stroke-width="1.2" />
<line x1="357.78" y1="43.30" x2="357.78" y2="22.00" stroke="#000" stroke-width="1.0" />
<line x1="354.48" y1="22.00" x2="361.08" y2="22.00" stroke="#000" stroke-width="1.2" />
<line x1="366.64" y1="61.20" x2="366.64" y2="49.10" stroke="#000" stroke-width="1.0" />
<line x1="363.34" y1="49.10" x2="369.94" y2="49.10" stroke="#000" stroke-width="1.2" />
<line x1="357.78" y1="44.80" x2="357.78" y2="70.70" stroke="#000" stroke-width="1.0" />
<line x1="354.48" y1="70.70" x2="361.08" y2="70.70" stroke="#000" stroke-width="1.2" />
<line x1="366.64" y1="67.40" x2="366.64" y2="75.00" stroke="#000" stroke-width="1.0" />
<line x1="363.34" y1="75.00" x2="369.94" y2="75.00" stroke="#000" stroke-width="1.2" />
<circle cx="293.70" cy="145.85" r="3.25" fill="#fff" stroke="#000" stroke-width="1.3"/>
<circle cx="331.20" cy="145.85" r="3.25" fill="#fff" stroke="#000" stroke-width="1.3"/>
<circle cx="335.63" cy="145.85" r="3.25" fill="#fff" stroke="#000" stroke-width="1.3"/>
<circle cx="340.06" cy="145.85" r="3.25" fill="#fff" stroke="#000" stroke-width="1.3"/>
<circle cx="344.49" cy="145.85" r="3.25" fill="#fff" stroke="#000" stroke-width="1.3"/>
<circle cx="348.92" cy="136.75" r="3.25" fill="#fff" stroke="#000" stroke-width="1.3"/>
<circle cx="357.78" cy="44.80" r="3.25" fill="#fff" stroke="#000" stroke-width="1.3"/>
<circle cx="366.64" cy="67.40" r="3.25" fill="#fff" stroke="#000" stroke-width="1.3"/>
<circle cx="384.36" cy="119.25" r="3.25" fill="#fff" stroke="#000" stroke-width="1.3"/>
<circle cx="419.80" cy="132.00" r="3.25" fill="#fff" stroke="#000" stroke-width="1.3"/>
<circle cx="508.40" cy="145.30" r="3.25" fill="#fff" stroke="#000" stroke-width="1.3"/>
<circle cx="293.70" cy="145.85" r="3.97" fill="#000"/>
<circle cx="331.20" cy="145.85" r="3.97" fill="#000"/>
<circle cx="335.63" cy="145.85" r="3.97" fill="#000"/>
<circle cx="340.06" cy="145.85" r="3.97" fill="#000"/>
<circle cx="344.49" cy="145.85" r="3.97" fill="#000"/>
<circle cx="348.92" cy="125.00" r="3.97" fill="#000"/>
<circle cx="357.78" cy="43.30" r="3.97" fill="#000"/>
<circle cx="366.64" cy="61.20" r="3.97" fill="#000"/>
<circle cx="384.36" cy="123.75" r="3.97" fill="#000"/>
<circle cx="419.80" cy="136.25" r="3.97" fill="#000"/>
<circle cx="508.40" cy="145.00" r="3.97" fill="#000"/>
<line x1="337.36" y1="261.19" x2="338.33" y2="258.41" stroke="#000" stroke-width="1.25" />
<line x1="340.89" y1="248.17" x2="343.66" y2="230.63" stroke="#000" stroke-width="1.25" />
<line x1="361.42" y1="229.16" x2="363.00" y2="230.84" stroke="#000" stroke-width="1.25" />
<line x1="371.68" y1="236.35" x2="379.32" y2="238.85" stroke="#000" stroke-width="1.25" />
<line x1="389.32" y1="242.36" x2="414.84" y2="251.94" stroke="#000" stroke-width="1.25" />
<line x1="425.08" y1="254.26" x2="503.12" y2="261.04" stroke="#000" stroke-width="1.25" />
<line x1="336.27" y1="250.44" x2="339.42" y2="224.46" stroke="#000" stroke-width="1.25" />
<line x1="340.64" y1="213.93" x2="343.91" y2="184.47" stroke="#000" stroke-width="1.25" />
<line x1="350.87" y1="180.23" x2="355.83" y2="192.77" stroke="#000" stroke-width="1.25" />
<line x1="360.40" y1="202.31" x2="364.02" y2="208.69" stroke="#000" stroke-width="1.25" />
<line x1="369.59" y1="217.70" x2="381.41" y2="235.30" stroke="#000" stroke-width="1.25" />
<line x1="389.43" y1="241.26" x2="414.73" y2="249.04" stroke="#000" stroke-width="1.25" />
<line x1="425.06" y1="251.22" x2="503.14" y2="260.48" stroke="#000" stroke-width="1.25" />
<line x1="299.20" y1="272.90" x2="326.00" y2="273.40" stroke="#000" stroke-width="1.7" />
<line x1="299.00" y1="271.30" x2="326.00" y2="266.00" stroke="#000" stroke-width="1.2" />
<polygon points="309.40,276.30 314.80,276.30 321.20,266.30 315.80,266.30" fill="#fff"/>
<line x1="310.70" y1="276.30" x2="317.10" y2="266.30" stroke="#000" stroke-width="1.3" />
<line x1="313.50" y1="276.30" x2="319.90" y2="266.30" stroke="#000" stroke-width="1.3" />
<line x1="340.06" y1="219.20" x2="340.06" y2="208.70" stroke="#000" stroke-width="1.0" />
<line x1="336.76" y1="208.70" x2="343.36" y2="208.70" stroke="#000" stroke-width="1.2" />
<line x1="344.49" y1="179.20" x2="344.49" y2="167.30" stroke="#000" stroke-width="1.0" />
<line x1="341.19" y1="167.30" x2="347.79" y2="167.30" stroke="#000" stroke-width="1.2" />
<line x1="348.92" y1="175.30" x2="348.92" y2="169.80" stroke="#000" stroke-width="1.0" />
<line x1="345.62" y1="169.80" x2="352.22" y2="169.80" stroke="#000" stroke-width="1.2" />
<circle cx="293.70" cy="274.90" r="3.25" fill="#000" stroke="#000" stroke-width="1.3"/>
<circle cx="331.20" cy="273.50" r="3.25" fill="#fff" stroke="#000" stroke-width="1.3"/>
<circle cx="335.63" cy="266.20" r="3.25" fill="#fff" stroke="#000" stroke-width="1.3"/>
<circle cx="340.06" cy="253.40" r="3.25" fill="#fff" stroke="#000" stroke-width="1.3"/>
<circle cx="344.49" cy="225.40" r="3.25" fill="#fff" stroke="#000" stroke-width="1.3"/>
<circle cx="348.92" cy="221.30" r="3.25" fill="#fff" stroke="#000" stroke-width="1.3"/>
<circle cx="357.78" cy="225.30" r="3.25" fill="#fff" stroke="#000" stroke-width="1.3"/>
<circle cx="366.64" cy="234.70" r="3.25" fill="#fff" stroke="#000" stroke-width="1.3"/>
<circle cx="384.36" cy="240.50" r="3.25" fill="#fff" stroke="#000" stroke-width="1.3"/>
<circle cx="419.80" cy="253.80" r="3.25" fill="#fff" stroke="#000" stroke-width="1.3"/>
<circle cx="508.40" cy="261.50" r="3.25" fill="#fff" stroke="#000" stroke-width="1.3"/>
<circle cx="293.70" cy="272.80" r="3.97" fill="#000"/>
<circle cx="331.20" cy="263.30" r="3.97" fill="#000"/>
<circle cx="335.63" cy="255.70" r="3.97" fill="#000"/>
<circle cx="340.06" cy="219.20" r="3.97" fill="#000"/>
<circle cx="344.49" cy="179.20" r="3.97" fill="#000"/>
<circle cx="348.92" cy="175.30" r="3.97" fill="#000"/>
<circle cx="357.78" cy="197.70" r="3.97" fill="#000"/>
<circle cx="366.64" cy="213.30" r="3.97" fill="#000"/>
<circle cx="384.36" cy="239.70" r="3.97" fill="#000"/>
<circle cx="419.80" cy="250.60" r="3.97" fill="#000"/>
<circle cx="508.40" cy="261.10" r="3.97" fill="#000"/>
<line x1="299.00" y1="412.80" x2="325.90" y2="413.80" stroke="#000" stroke-width="1.25" />
<line x1="337.05" y1="400.79" x2="338.64" y2="395.11" stroke="#000" stroke-width="1.25" />
<line x1="340.63" y1="384.73" x2="343.92" y2="354.47" stroke="#000" stroke-width="1.25" />
<line x1="361.63" y1="345.05" x2="362.79" y2="346.15" stroke="#000" stroke-width="1.25" />
<line x1="371.50" y1="351.91" x2="379.50" y2="355.39" stroke="#000" stroke-width="1.25" />
<line x1="389.06" y1="359.95" x2="415.10" y2="373.55" stroke="#000" stroke-width="1.25" />
<line x1="425.06" y1="376.65" x2="503.14" y2="386.35" stroke="#000" stroke-width="1.25" />
<line x1="336.53" y1="393.38" x2="339.16" y2="378.02" stroke="#000" stroke-width="1.25" />
<line x1="340.49" y1="367.52" x2="344.06" y2="323.78" stroke="#000" stroke-width="1.25" />
<line x1="369.52" y1="323.65" x2="381.48" y2="342.15" stroke="#000" stroke-width="1.25" />
<line x1="388.81" y1="349.48" x2="415.35" y2="366.62" stroke="#000" stroke-width="1.25" />
<line x1="425.01" y1="370.50" x2="503.19" y2="385.50" stroke="#000" stroke-width="1.25" />
<line x1="299.20" y1="409.20" x2="326.00" y2="406.30" stroke="#000" stroke-width="1.2" />
<polygon points="309.15,416.30 314.55,416.30 321.15,406.50 315.75,406.50" fill="#fff"/>
<line x1="310.45" y1="416.30" x2="317.05" y2="406.50" stroke="#000" stroke-width="1.3" />
<line x1="313.25" y1="416.30" x2="319.85" y2="406.50" stroke="#000" stroke-width="1.3" />
<line x1="340.06" y1="372.80" x2="340.06" y2="365.90" stroke="#000" stroke-width="1.0" />
<line x1="336.76" y1="365.90" x2="343.36" y2="365.90" stroke="#000" stroke-width="1.2" />
<line x1="344.49" y1="318.50" x2="344.49" y2="305.80" stroke="#000" stroke-width="1.0" />
<line x1="341.19" y1="305.80" x2="347.79" y2="305.80" stroke="#000" stroke-width="1.2" />
<line x1="348.92" y1="311.00" x2="348.92" y2="300.70" stroke="#000" stroke-width="1.0" />
<line x1="345.62" y1="300.70" x2="352.22" y2="300.70" stroke="#000" stroke-width="1.2" />
<line x1="357.78" y1="316.50" x2="357.78" y2="307.70" stroke="#000" stroke-width="1.0" />
<line x1="354.48" y1="307.70" x2="361.08" y2="307.70" stroke="#000" stroke-width="1.2" />
<line x1="366.64" y1="319.20" x2="366.64" y2="299.20" stroke="#000" stroke-width="1.0" />
<line x1="363.34" y1="299.20" x2="369.94" y2="299.20" stroke="#000" stroke-width="1.2" />
<line x1="384.36" y1="346.60" x2="384.36" y2="337.70" stroke="#000" stroke-width="1.0" />
<line x1="381.06" y1="337.70" x2="387.66" y2="337.70" stroke="#000" stroke-width="1.2" />
<line x1="419.80" y1="369.50" x2="419.80" y2="362.20" stroke="#000" stroke-width="1.0" />
<line x1="416.50" y1="362.20" x2="423.10" y2="362.20" stroke="#000" stroke-width="1.2" />
<line x1="344.49" y1="349.20" x2="344.49" y2="356.00" stroke="#000" stroke-width="1.0" />
<line x1="341.19" y1="356.00" x2="347.79" y2="356.00" stroke="#000" stroke-width="1.2" />
<line x1="357.78" y1="341.40" x2="357.78" y2="351.30" stroke="#000" stroke-width="1.0" />
<line x1="354.48" y1="351.30" x2="361.08" y2="351.30" stroke="#000" stroke-width="1.2" />
<line x1="366.64" y1="349.80" x2="366.64" y2="359.20" stroke="#000" stroke-width="1.0" />
<line x1="363.34" y1="359.20" x2="369.94" y2="359.20" stroke="#000" stroke-width="1.2" />
<line x1="384.36" y1="357.50" x2="384.36" y2="364.20" stroke="#000" stroke-width="1.0" />
<line x1="381.06" y1="364.20" x2="387.66" y2="364.20" stroke="#000" stroke-width="1.2" />
<circle cx="293.70" cy="412.60" r="3.25" fill="#fff" stroke="#000" stroke-width="1.3"/>
<circle cx="331.20" cy="414.00" r="3.25" fill="#fff" stroke="#000" stroke-width="1.3"/>
<circle cx="335.63" cy="405.90" r="3.25" fill="#fff" stroke="#000" stroke-width="1.3"/>
<circle cx="340.06" cy="390.00" r="3.25" fill="#fff" stroke="#000" stroke-width="1.3"/>
<circle cx="344.49" cy="349.20" r="3.25" fill="#fff" stroke="#000" stroke-width="1.3"/>
<circle cx="348.92" cy="343.90" r="3.25" fill="#fff" stroke="#000" stroke-width="1.3"/>
<circle cx="357.78" cy="341.40" r="3.25" fill="#fff" stroke="#000" stroke-width="1.3"/>
<circle cx="366.64" cy="349.80" r="3.25" fill="#fff" stroke="#000" stroke-width="1.3"/>
<circle cx="384.36" cy="357.50" r="3.25" fill="#fff" stroke="#000" stroke-width="1.3"/>
<circle cx="419.80" cy="376.00" r="3.25" fill="#fff" stroke="#000" stroke-width="1.3"/>
<circle cx="508.40" cy="387.00" r="3.25" fill="#fff" stroke="#000" stroke-width="1.3"/>
<circle cx="293.70" cy="412.00" r="3.97" fill="#000"/>
<circle cx="331.20" cy="404.60" r="3.97" fill="#000"/>
<circle cx="335.63" cy="398.60" r="3.97" fill="#000"/>
<circle cx="340.06" cy="372.80" r="3.97" fill="#000"/>
<circle cx="344.49" cy="318.50" r="3.97" fill="#000"/>
<circle cx="348.92" cy="311.00" r="3.97" fill="#000"/>
<circle cx="357.78" cy="316.50" r="3.97" fill="#000"/>
<circle cx="366.64" cy="319.20" r="3.97" fill="#000"/>
<circle cx="384.36" cy="346.60" r="3.97" fill="#000"/>
<circle cx="419.80" cy="369.50" r="3.97" fill="#000"/>
<circle cx="508.40" cy="386.50" r="3.97" fill="#000"/>
<polygon points="309.00,149.35 314.40,149.35 320.10,139.05 314.70,139.05" fill="#fff"/>
<line x1="310.30" y1="149.35" x2="316.00" y2="139.05" stroke="#000" stroke-width="1.3" />
<line x1="313.10" y1="149.35" x2="318.80" y2="139.05" stroke="#000" stroke-width="1.3" />
<polygon points="309.40,292.00 314.80,292.00 320.80,282.00 315.40,282.00" fill="#fff"/>
<line x1="310.70" y1="292.00" x2="316.70" y2="282.00" stroke="#000" stroke-width="1.3" />
<line x1="313.50" y1="292.00" x2="319.50" y2="282.00" stroke="#000" stroke-width="1.3" />
<polygon points="309.30,438.80 314.70,438.80 321.30,428.30 315.90,428.30" fill="#fff"/>
<line x1="310.60" y1="438.80" x2="317.20" y2="428.30" stroke="#000" stroke-width="1.3" />
<line x1="313.40" y1="438.80" x2="320.00" y2="428.30" stroke="#000" stroke-width="1.3" />
</svg>
</body></html>
